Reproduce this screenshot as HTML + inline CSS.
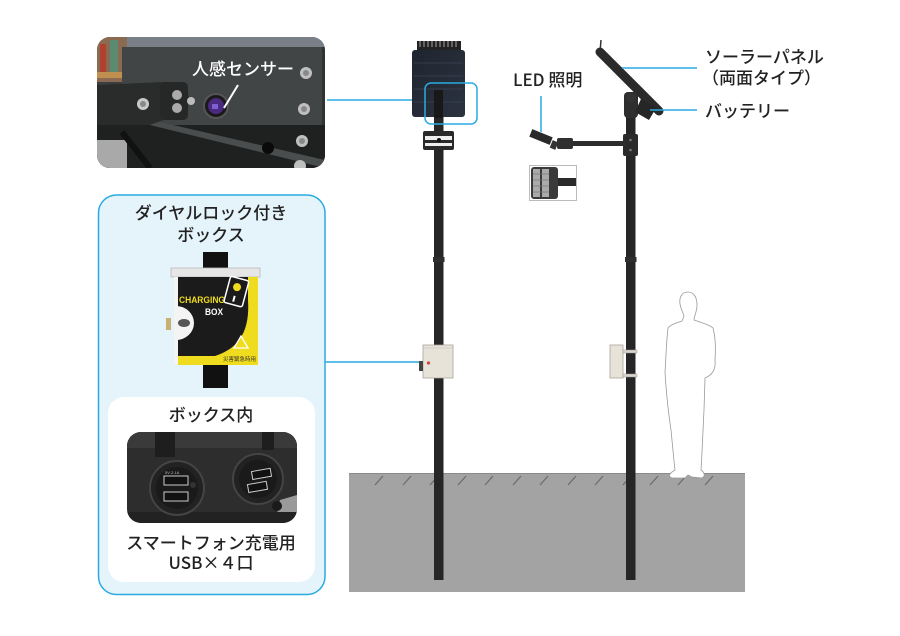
<!DOCTYPE html>
<html><head><meta charset="utf-8">
<style>
html,body{margin:0;padding:0;background:#fff;}
svg{display:block;}
text{font-family:"Liberation Sans","Noto Sans CJK JP",sans-serif;}
.jp{font-family:"Noto Sans CJK JP","Liberation Sans",sans-serif;font-weight:500;fill:#222;font-size:17px;}
</style></head>
<body>
<svg width="900" height="636" viewBox="0 0 900 636" xmlns="http://www.w3.org/2000/svg">
<defs>
<clipPath id="cp1"><rect x="97" y="37" width="228" height="131" rx="13"/></clipPath>
<clipPath id="cp2"><rect x="127" y="432" width="170" height="91" rx="14"/></clipPath>
<linearGradient id="gpanel" x1="0" y1="0" x2="1" y2="1">
<stop offset="0" stop-color="#1e2530"/><stop offset="1" stop-color="#2c3340"/></linearGradient>
<linearGradient id="gph" x1="0" y1="0" x2="1" y2="0">
<stop offset="0" stop-color="#3a3e3e"/><stop offset="1" stop-color="#2f3333"/></linearGradient>
</defs>

<!-- ===== Top sensor photo ===== -->
<g clip-path="url(#cp1)">
<rect x="97" y="37" width="228" height="131" fill="url(#gph)"/>
<rect x="97" y="37" width="228" height="10" fill="#7a8088"/>
<rect x="97" y="37" width="30" height="45" fill="#8a6a50"/>
<rect x="100" y="44" width="6" height="30" fill="#b04030"/>
<rect x="110" y="40" width="8" height="35" fill="#5a8a70"/>
<rect x="97" y="72" width="30" height="6" fill="#c09050"/>
<rect x="122" y="47" width="200" height="80" fill="#414545"/>
<path d="M97 85 L165 82 L185 85 L190 100 L170 118 L140 128 L97 130 Z" fill="#2a2c2c"/>
<rect x="160" y="82" width="28" height="38" rx="5" fill="#262828"/>
<circle cx="143" cy="104" r="6" fill="#c8c8c8"/><circle cx="143" cy="104" r="3" fill="#888"/>
<circle cx="177" cy="95" r="5" fill="#aaa"/>
<circle cx="177" cy="108" r="5" fill="#aaa"/>
<circle cx="191" cy="101" r="4" fill="#bbb"/>
<rect x="97" y="125" width="228" height="43" fill="#1f2121"/>
<rect x="97" y="140" width="30" height="28" fill="#a9a9a9"/>
<path d="M150 125 L325 168 L325 160 L160 122 Z" fill="#4a4d4d"/>
<path d="M122 132 L150 168" stroke="#111" stroke-width="6"/>
<circle cx="216" cy="106" r="12" fill="#1a1a1a" stroke="#555" stroke-width="2"/>
<circle cx="216" cy="106" r="8" fill="#4a2a80"/>
<rect x="212" y="104" width="6" height="5" fill="#8060d0"/>
<circle cx="268" cy="148" r="6" fill="#0a0a0a"/>
<circle cx="306" cy="73" r="6" fill="#bfbfbf"/><circle cx="306" cy="73" r="3" fill="#888"/>
<circle cx="304" cy="109" r="6" fill="#bfbfbf"/><circle cx="304" cy="109" r="3" fill="#888"/>
<circle cx="302" cy="141" r="6" fill="#bfbfbf"/><circle cx="302" cy="141" r="3" fill="#888"/>
<circle cx="300" cy="166" r="6" fill="#bfbfbf"/>
</g>
<line x1="224" y1="108" x2="238" y2="85" stroke="#fff" stroke-width="2"/>
<text x="192" y="75" class="jp" style="fill:#fff" font-size="17">人感センサー</text>

<!-- connector top -->
<line x1="327" y1="100" x2="425" y2="100" stroke="#29abe2" stroke-width="1.5"/>

<!-- ===== Left info panel ===== -->
<rect x="98.5" y="195" width="226.5" height="399.5" rx="18" fill="#e5f3fb" stroke="#29abe2" stroke-width="1.5"/>
<text x="211" y="219" text-anchor="middle" class="jp">ダイヤルロック付き</text>
<text x="211" y="241" text-anchor="middle" class="jp">ボックス</text>

<!-- charging box -->
<rect x="203" y="252" width="25" height="136" fill="#111"/>
<rect x="171" y="268" width="89" height="9" fill="#e6e6e6" stroke="#bbb" stroke-width="0.8"/>
<rect x="174" y="277" width="84" height="88" fill="#f0dc1e"/>
<path d="M178 277 L248 277 L248 300 C250 330 240 348 215 356 L178 356 Z" fill="#1b1b1b"/>
<rect x="174" y="277" width="4" height="88" fill="#f4f4f4"/>
<path d="M176 306 A18 17 0 0 1 176 340 Z" fill="#f4f4f4"/>
<ellipse cx="184" cy="323" rx="6" ry="4" fill="#555"/>
<rect x="166" y="318" width="5" height="12" fill="#c8b070"/>
<text x="179" y="303" font-size="9" font-weight="bold" fill="#f0dc1e" textLength="46" lengthAdjust="spacingAndGlyphs" font-family="Liberation Sans,sans-serif">CHARGING</text>
<text x="205" y="315" font-size="9" font-weight="bold" fill="#fff" textLength="18" lengthAdjust="spacingAndGlyphs" font-family="Liberation Sans,sans-serif">BOX</text>
<g transform="rotate(15 236 291)">
<rect x="227" y="278" width="19" height="27" rx="2" fill="#1b1b1b" stroke="#fff" stroke-width="1.5"/>
<circle cx="236" cy="287" r="4" fill="#f0dc1e"/>
<rect x="235" y="296" width="2" height="6" fill="#fff"/>
</g>
<path d="M241 336 L248 348 L234 348 Z" fill="none" stroke="#fff" stroke-width="1.3"/>
<text x="223" y="361" font-size="5.5" fill="#333" font-family="Noto Sans CJK JP,sans-serif">災害緊急時用</text>

<!-- inner white box -->
<rect x="108" y="397" width="207" height="185" rx="16" fill="#fff"/>
<text x="211" y="421" text-anchor="middle" class="jp">ボックス内</text>
<g clip-path="url(#cp2)">
<rect x="127" y="432" width="170" height="91" fill="#2d2d2d"/>
<rect x="127" y="432" width="170" height="16" fill="#3a3a3a"/>
<path d="M280 500 L297 495 L297 523 L275 523 Z" fill="#9a9a9a"/>
<rect x="127" y="512" width="170" height="11" fill="#222"/>
<rect x="155" y="432" width="20" height="25" fill="#1e1e1e"/>
<rect x="262" y="432" width="12" height="18" fill="#1e1e1e"/>
</g>
<circle cx="177" cy="488" r="27" fill="#222" stroke="#444" stroke-width="2"/>
<circle cx="177" cy="488" r="21" fill="#1a1a1a"/>
<rect x="164" y="476" width="24" height="9" fill="#111" stroke="#ccc" stroke-width="1"/>
<rect x="164" y="492" width="24" height="9" fill="#111" stroke="#ccc" stroke-width="1"/>
<text x="165" y="474" font-size="4" fill="#bbb" font-family="Liberation Sans,sans-serif">5V  2.1A</text>
<circle cx="193" cy="485" r="3" fill="#333"/>
<circle cx="258" cy="479" r="25" fill="#222" stroke="#444" stroke-width="2"/>
<circle cx="258" cy="479" r="19" fill="#1a1a1a"/>
<rect x="252" y="470" width="19" height="8" fill="#111" stroke="#ccc" stroke-width="1" transform="rotate(-10 261 474)"/>
<rect x="248" y="483" width="19" height="8" fill="#111" stroke="#ccc" stroke-width="1" transform="rotate(-10 257 487)"/>
<circle cx="277" cy="506" r="5" fill="#1a1a1a"/>
<text x="211" y="549" text-anchor="middle" class="jp">スマートフォン充電用</text>
<text x="211" y="569" text-anchor="middle" class="jp">USB×４口</text>

<!-- connector middle -->
<line x1="325" y1="362" x2="419" y2="362" stroke="#29abe2" stroke-width="1.5"/>

<!-- ===== Ground ===== -->
<rect x="349" y="473" width="396" height="119" fill="#a3a3a3"/>
<line x1="349" y1="473.5" x2="745" y2="473.5" stroke="#8a8a8a" stroke-width="1"/>
<g stroke="#6a6a6a" stroke-width="1.2">
<line x1="375" y1="485" x2="383" y2="476"/>
<line x1="403" y1="485" x2="411" y2="476"/>
<line x1="430" y1="485" x2="438" y2="476"/>
<line x1="458" y1="485" x2="466" y2="476"/>
<line x1="485" y1="485" x2="493" y2="476"/>
<line x1="513" y1="485" x2="521" y2="476"/>
<line x1="540" y1="485" x2="548" y2="476"/>
<line x1="568" y1="485" x2="576" y2="476"/>
<line x1="595" y1="485" x2="603" y2="476"/>
<line x1="623" y1="485" x2="631" y2="476"/>
<line x1="650" y1="485" x2="658" y2="476"/>
<line x1="678" y1="485" x2="686" y2="476"/>
<line x1="705" y1="485" x2="713" y2="476"/>
</g>

<!-- ===== Pole 1 ===== -->
<rect x="434" y="117" width="9.5" height="463" fill="#262626"/>
<rect x="433" y="257" width="11.5" height="5" fill="#2e2e2e"/>
<!-- panel -->
<rect x="417" y="41" width="44" height="10" fill="#222"/>
<g stroke="#fff" stroke-width="0.6">
<line x1="420" y1="41" x2="420" y2="47"/><line x1="424" y1="41" x2="424" y2="47"/><line x1="428" y1="41" x2="428" y2="47"/><line x1="432" y1="41" x2="432" y2="47"/><line x1="436" y1="41" x2="436" y2="47"/><line x1="440" y1="41" x2="440" y2="47"/><line x1="444" y1="41" x2="444" y2="47"/><line x1="448" y1="41" x2="448" y2="47"/><line x1="452" y1="41" x2="452" y2="47"/><line x1="456" y1="41" x2="456" y2="47"/>
</g>
<rect x="412" y="50" width="53" height="67" rx="3" fill="url(#gpanel)"/>
<g stroke="#3a4556" stroke-width="0.8">
<line x1="414" y1="63" x2="463" y2="63"/><line x1="414" y1="76" x2="463" y2="76"/><line x1="414" y1="89" x2="463" y2="89"/><line x1="414" y1="102" x2="463" y2="102"/>
</g>
<rect x="434" y="90" width="9" height="28" fill="#181818"/>
<rect x="425" y="83" width="52" height="41" rx="6" fill="none" stroke="#29abe2" stroke-width="1.5"/>
<!-- bracket -->
<rect x="423" y="131" width="31" height="19" rx="2" fill="#2a2a2a"/>
<rect x="425" y="136" width="27" height="4" fill="#eee"/>
<rect x="425" y="143" width="27" height="3" fill="#eee"/>
<circle cx="439" cy="140" r="2" fill="#111"/>
<!-- box on pole 1 -->
<rect x="423" y="345" width="30" height="33" fill="#e8e3d8" stroke="#a8a49a" stroke-width="0.8"/>
<line x1="423" y1="348" x2="453" y2="348" stroke="#bbb" stroke-width="0.6"/>
<circle cx="428.5" cy="363" r="1.6" fill="#c44"/>
<rect x="419" y="361" width="4" height="10" fill="#444"/>

<!-- ===== Pole 2 ===== -->
<rect x="626" y="95" width="9.5" height="485" fill="#262626"/>
<rect x="625" y="257" width="11.5" height="5" fill="#2e2e2e"/>
<line x1="600" y1="52" x2="601" y2="40" stroke="#333" stroke-width="1.5"/>
<line x1="600" y1="52" x2="659" y2="111" stroke="#2a2a2a" stroke-width="9" stroke-linecap="round"/>
<rect x="624" y="92" width="14" height="26" rx="4" fill="#2e2e2e"/>
<circle cx="631" cy="98" r="5" fill="#333"/>
<polygon points="641,99 656,108 649,120 635,112" fill="#262626"/>
<line x1="650" y1="110" x2="697" y2="110" stroke="#29abe2" stroke-width="1.5"/>
<line x1="622" y1="68" x2="697" y2="68" stroke="#29abe2" stroke-width="1.5"/>
<!-- clamps -->
<rect x="623" y="134" width="15" height="22" rx="2" fill="#2a2a2a"/>
<circle cx="630.5" cy="140" r="1.3" fill="#777"/><circle cx="630.5" cy="150" r="1.3" fill="#777"/>
<!-- arm -->
<rect x="568" y="141" width="58" height="5" fill="#2d2d2d"/>
<rect x="557" y="138" width="16" height="11" rx="2" fill="#303030"/>
<rect x="530" y="133" width="22" height="8" fill="#2a2a2a" transform="rotate(22 541 137)"/>
<rect x="551" y="141" width="6" height="8" fill="#333" transform="rotate(22 554 145)"/>
<line x1="541" y1="96" x2="541" y2="132" stroke="#29abe2" stroke-width="1.5"/>
<!-- LED inset -->
<rect x="529.5" y="165.5" width="47" height="35" fill="#fff" stroke="#bbb" stroke-width="1"/>
<rect x="531" y="167" width="27" height="32" rx="3" fill="#3a3a3a"/>
<rect x="533" y="169" width="7" height="28" fill="#aaa"/>
<rect x="542" y="169" width="7" height="28" fill="#aaa"/>
<g stroke="#777" stroke-width="0.7">
<line x1="533" y1="174" x2="549" y2="174"/><line x1="533" y1="180" x2="549" y2="180"/><line x1="533" y1="186" x2="549" y2="186"/><line x1="533" y1="192" x2="549" y2="192"/>
</g>
<rect x="558" y="178" width="18" height="8" fill="#2a2a2a"/>
<!-- box on pole 2 -->
<rect x="610" y="345" width="13" height="33" fill="#e8e3d8" stroke="#a8a49a" stroke-width="0.8"/>
<rect x="623" y="350" width="14" height="3" fill="#d8d4ca" stroke="#999" stroke-width="0.5"/>
<rect x="623" y="374" width="14" height="3" fill="#d8d4ca" stroke="#999" stroke-width="0.5"/>

<!-- person -->
<path d="M688 292 C682 292 679 297 680 304 C681 310 683 312 684 316 L682 321 C676 323 670 325 668 328 C666 345 666 360 665 372 C666 390 668 410 671 430 C673 450 674 462 675 470 C670 473 667 476 672 478 L685 478 L688 475 L692 477 L702 478 C706 476 704 472 701 470 C702 455 703 430 704 410 L705 378 C712 375 716 370 715 360 C716 345 715 335 713 328 C710 325 700 322 694 320 C694 316 697 312 697 305 C697 296 693 292 688 292 Z" fill="#fff" stroke="#999" stroke-width="0.8"/>

<!-- labels -->
<text x="513" y="86" class="jp" font-size="16">LED 照明</text>
<text x="705" y="63" class="jp">ソーラーパネル</text>
<text x="702" y="84" class="jp">（両面タイプ）</text>
<text x="705" y="117" class="jp">バッテリー</text>
</svg>
</body></html>
